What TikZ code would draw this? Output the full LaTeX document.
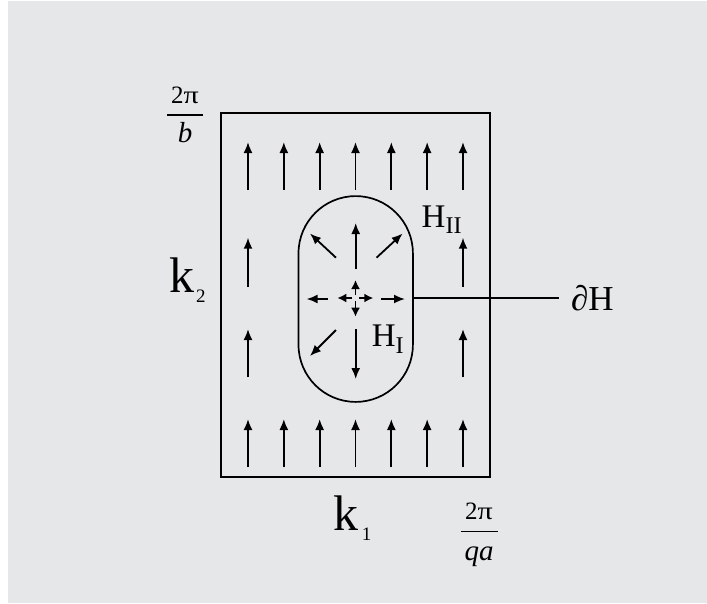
\documentclass[tikz,border=0pt]{standalone}
\usepackage{fontspec}
\setmainfont{Liberation Serif}
\usetikzlibrary{arrows.meta}
\definecolor{panel}{RGB}{230,231,233}

\begin{document}
\begin{tikzpicture}[x=1pt,y=-1pt]
\tikzset{vec/.style={-{Latex[length=11pt,width=9pt]},line width=1.8pt},
  small/.style={-{Latex[length=9pt,width=9pt]},line width=1.8pt},
  lbl/.style={inner sep=0pt,anchor=base west},
  frac/.style={inner sep=0pt,align=center,font=\fontsize{25}{25}\selectfont}}

\useasboundingbox (0,0) rectangle (707,603);
\fill[white] (0,0) rectangle (707,603);
\fill[panel] (8,1) rectangle (707,603);

\draw[line width=1.9pt] (221,113) rectangle (490,477);
\draw[line width=1.7pt] (298.5,253.3) arc[start angle=180,end angle=360,radius=57.2]
  -- (412.9,344.7) arc[start angle=0,end angle=180,radius=57.2] -- cycle;

\foreach \i in {0,...,6} {
  \draw[vec] (248+35.83*\i,190) -- (248+35.83*\i,142);
  \draw[vec] (248+35.83*\i,467) -- (248+35.83*\i,419);
}
\foreach \x in {248,463} {
  \draw[vec] (\x,286.5) -- (\x,237.7);
  \draw[vec] (\x,377) -- (\x,329);
}

\draw[vec] (355.7,269) -- (355.7,223);
\draw[vec] (355.7,329) -- (355.7,379);
\draw[vec] (328,299) -- (306.6,299);
\draw[vec] (381,299) -- (405,299);
\draw[vec] (336,257.7) -- (310,233.5);
\draw[vec] (376.5,257.7) -- (402.6,233.5);
\draw[vec] (336,330) -- (310,356);

\draw[small] (355.5,295) -- (355.5,280);
\draw[small] (355.5,301) -- (355.5,316.7);
\draw[small] (352,298) -- (337.3,298);
\draw[small] (359,298) -- (373.3,298);

\coordinate (edge) at (412.9,298);
\node[inner xsep=12pt,inner ysep=0pt,anchor=west,font=\fontsize{35}{35}\selectfont] (dH) at (559,298) {∂H};
\draw[line width=1.7pt] (edge) -- (dH.west);

\node[lbl,font=\fontsize{33}{33}\selectfont] (h1) at (371.7,346.7) {H\raisebox{-6.7pt}{\fontsize{24}{24}\selectfont I}};
\node[lbl,font=\fontsize{33}{33}\selectfont] (h2) at (421.5,227) {H\raisebox{-6.7pt}{\fontsize{24}{24}\selectfont II}};

\node[lbl,font=\fontsize{50}{50}\selectfont] (k2) at (169,292) {k\hspace{2pt}\raisebox{-10pt}{\fontsize{19}{19}\selectfont 2}};
\node[lbl,font=\fontsize{50}{50}\selectfont] (k1) at (333.6,530) {k\hspace{3pt}\raisebox{-10.5pt}{\fontsize{19}{19}\selectfont 1}};

\node[frac] (pb) at (185,115) {2\scalebox{1.2}[1]{π}\\[-13pt]\rule{36pt}{1.3pt}\\[2pt]\fontsize{29}{29}\selectfont\itshape b};
\node[frac] (pqa) at (479,535) {2\scalebox{1.2}[1]{π}\\[-12.5pt]\rule{37pt}{1.3pt}\\[3pt]\fontsize{29}{29}\selectfont\itshape qa};
\end{tikzpicture}
\end{document}
